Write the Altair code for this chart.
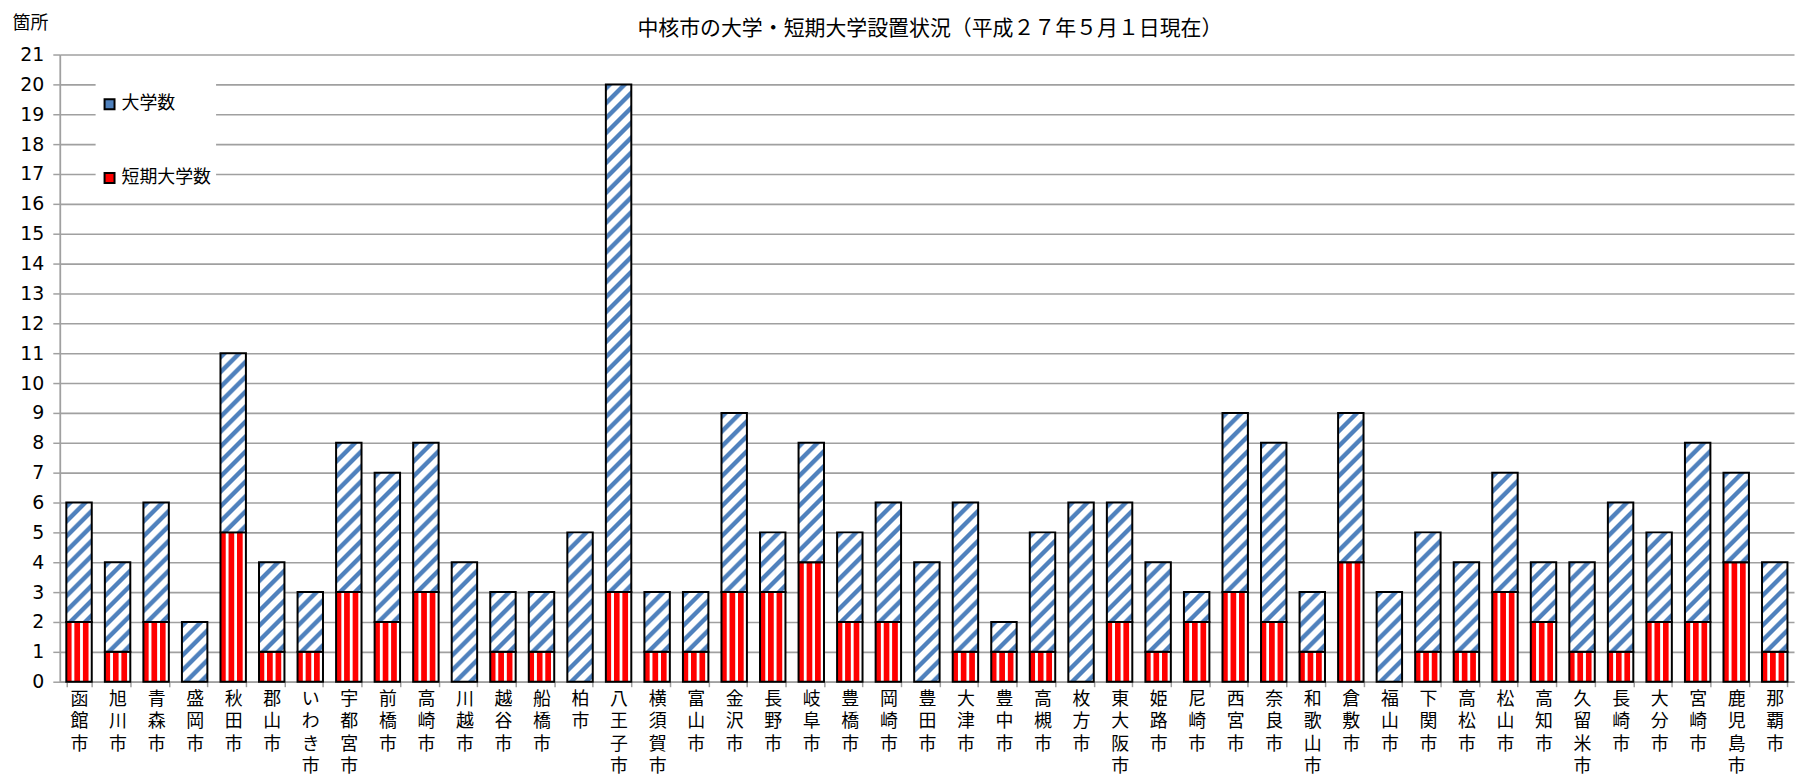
import math
import altair as alt
import pandas as pd

cities = ["函館市", "旭川市", "青森市", "盛岡市", "秋田市", "郡山市", "いわき市", "宇都宮市", "前橋市",
          "高崎市", "川越市", "越谷市", "船橋市", "柏市", "八王子市", "横須賀市", "富山市", "金沢市",
          "長野市", "岐阜市", "豊橋市", "岡崎市", "豊田市", "大津市", "豊中市", "高槻市", "枚方市",
          "東大阪市", "姫路市", "尼崎市", "西宮市", "奈良市", "和歌山市", "倉敷市", "福山市", "下関市",
          "高松市", "松山市", "高知市", "久留米市", "長崎市", "大分市", "宮崎市", "鹿児島市", "那覇市"]
univ = [4, 3, 4, 2, 6, 3, 2, 5, 5, 5, 4, 2, 2, 5, 17, 2, 2, 6, 2, 4, 3, 4, 4, 5, 1, 4, 6, 4, 3, 1,
        6, 6, 2, 5, 3, 4, 3, 4, 2, 3, 5, 3, 6, 3, 3]
short = [2, 1, 2, 0, 5, 1, 1, 3, 2, 3, 0, 1, 1, 0, 3, 1, 1, 3, 3, 4, 2, 2, 0, 1, 1, 1, 0, 2, 1, 2,
         3, 2, 1, 4, 0, 1, 1, 3, 2, 1, 1, 2, 2, 4, 1]
series_names = ["大学数", "短期大学数"]
y_ticks = list(range(0, 22))
title_text = "中核市の大学・短期大学設置状況（平成２７年５月１日現在）"
y_title = "箇所"

rows = []
for c, u, s in zip(cities, univ, short):
    rows.append({"city": c, "series": "短期大学数", "lo": 0, "hi": s, "n": s})
    rows.append({"city": c, "series": "大学数", "lo": s, "hi": s + u, "n": u})
df = pd.DataFrame(rows)

FONT = "Noto Sans CJK JP"
NUMFONT = "DejaVu Sans"
W, H = 1742, 630
PI, PO = 0.34, 0.17
step = W / (len(cities) - PI + 2 * PO)
bw = step * (1 - PI)
unit_px = H / 21.0

BLUE = "#4f81bd"
RED = "#ff0000"


def make_stops(pattern, N):
    stops = []
    k = 0
    while k < N:
        for f, col in pattern:
            off = (k + f) / N
            if off <= 1.0:
                stops.append({"offset": round(off, 5), "color": col})
        k += 1
    stops.append({"offset": 1.0, "color": pattern[-1][1]})
    return stops


def red_gradient():
    pattern = [(0.0, RED), (0.56, RED), (0.68, "#ffffff"), (0.9, "#ffffff")]
    return {"gradient": "linear", "x1": 0, "y1": 0, "x2": 1, "y2": 0,
            "stops": make_stops(pattern, 3)}


def blue_gradient(h_units, period=10.6):
    w = bw
    hh = h_units * unit_px
    c = (w + hh) * w * hh / (w * w + hh * hh)
    total = (w + hh) / math.sqrt(2)
    N = total / period
    pattern = [(0.0, "#ffffff"), (0.12, BLUE), (0.42, BLUE), (0.54, "#ffffff")]
    return {"gradient": "linear", "x1": 0, "y1": 0, "x2": c / hh, "y2": c / w,
            "stops": make_stops(pattern, N)}


X = alt.X("city:N", sort=cities, title=None,
          scale=alt.Scale(paddingInner=PI, paddingOuter=PO),
          axis=alt.Axis(labelExpr="split(datum.label, '')", labelAngle=0, labelAlign="center",
                        labelBaseline="top", labelLineHeight=22.5, labelFontSize=18,
                        labelFont=FONT, labelColor="#000000", labelPadding=4, labelLimit=0,
                        labelOverlap=False, tickBand="extent", tickSize=5, tickColor="#a0a0a0",
                        tickWidth=1.5, domainColor="#a0a0a0", domainWidth=1.8, grid=False))
Y = alt.Y("lo:Q", title=y_title,
          scale=alt.Scale(domain=[0, 21], nice=False, zero=True),
          axis=alt.Axis(values=y_ticks, labelFontSize=19, labelFont=NUMFONT, labelColor="#000000",
                        labelPadding=9, tickSize=7, tickColor="#a0a0a0", tickWidth=1.5,
                        domainColor="#a0a0a0", domainWidth=1.8, grid=True, gridColor="#a0a0a0",
                        gridWidth=1.6, titleAngle=0, titleX=-30, titleY=-31, titleAlign="center",
                        titleBaseline="middle", titleFontSize=18, titleFont=FONT,
                        titleFontWeight="normal", titleColor="#000000"))
Y2 = alt.Y2("hi:Q")

base = alt.Chart(df).transform_filter("datum.n > 0").mark_bar(strokeWidth=0).encode(
    x=X, y=Y, y2=Y2,
    color=alt.Color("series:N",
                    scale=alt.Scale(domain=series_names, range=[BLUE, RED]),
                    legend=alt.Legend(title=" ", titleFontSize=12, titlePadding=9,
                                      orient="none", legendX=36, legendY=15,
                                      padding=5, fillColor="#ffffff", rowPadding=56,
                                      symbolType="square", symbolSize=100,
                                      symbolStrokeColor="#000000", symbolStrokeWidth=2,
                                      labelFontSize=18, labelFont=FONT, labelColor="#000000",
                                      labelOffset=3)))

layers = [base]
layers.append(
    alt.Chart(df).transform_filter("datum.series === '短期大学数' && datum.n > 0")
    .mark_bar(fill=red_gradient(), stroke="#000000", strokeWidth=2)
    .encode(x=X, y=Y, y2=Y2)
)
for h in sorted(set(univ)):
    layers.append(
        alt.Chart(df).transform_filter(f"datum.series === '大学数' && datum.n === {h}")
        .mark_bar(fill=blue_gradient(h), stroke="#000000", strokeWidth=2)
        .encode(x=X, y=Y, y2=Y2)
    )

chart = alt.layer(*layers).properties(
    width=W, height=H,
    autosize=alt.AutoSizeParams(type="none"),
    padding={"left": 52, "top": 45, "right": 2, "bottom": 96},
    title=alt.TitleParams(title_text, font=FONT, fontSize=21, fontWeight="normal",
                          color="#000000", anchor="middle", frame="group", offset=-24, dx=3),
    background="#ffffff",
).configure_view(stroke=None)

chart.save("out.html", embed_options={"renderer": "svg", "actions": False})
